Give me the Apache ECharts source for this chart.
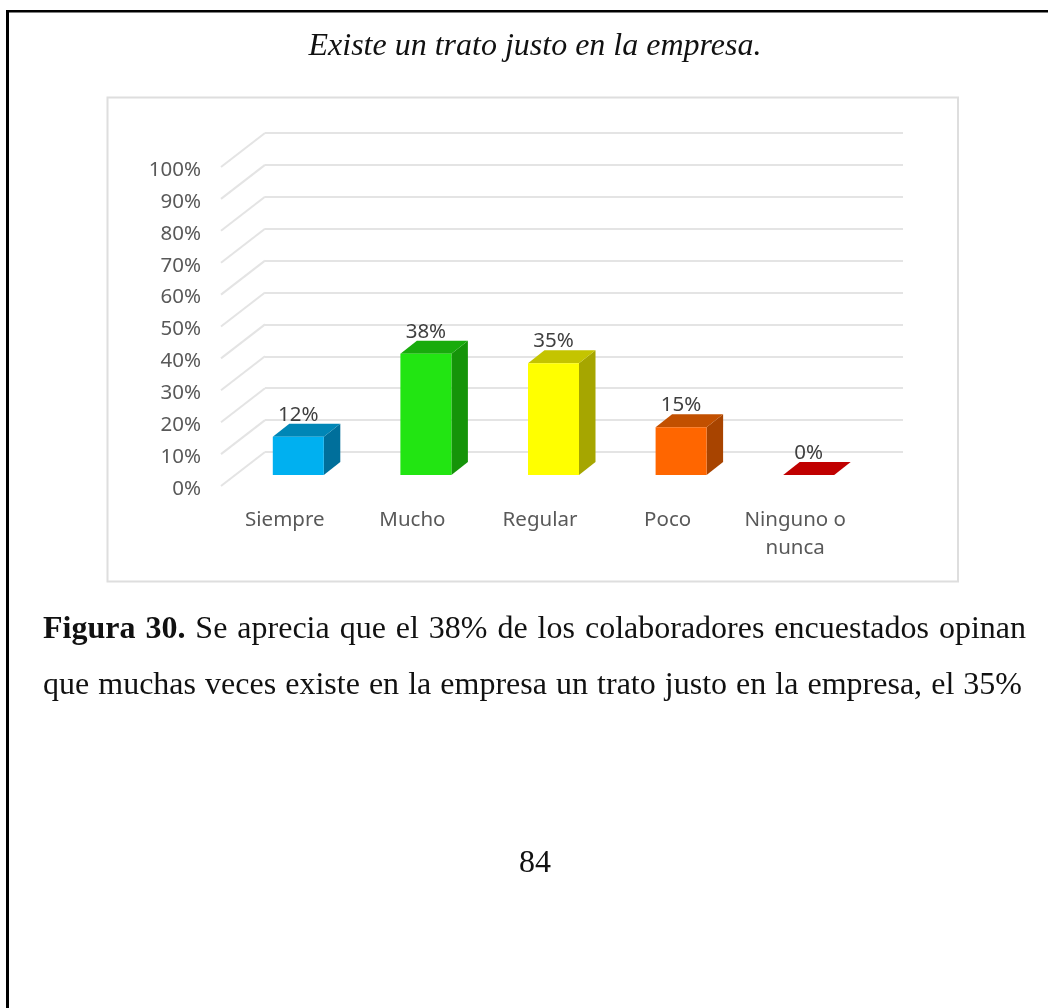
<!DOCTYPE html>
<html>
<head>
<meta charset="utf-8">
<title>Figura 30</title>
<script src="https://cdn.jsdelivr.net/npm/echarts@6/dist/echarts.min.js"></script>
<style>
  html, body { margin: 0; padding: 0; background: #fff; overflow: hidden; }
  #chart { position: absolute; left: 0; top: 0; width: 1048px; height: 1008px; }
  .line {
    position: absolute; left: 43px; height: 40px; line-height: 40px;
    font-family: "Liberation Serif", serif; font-size: 32px; color: #111;
    text-align: justify; text-align-last: justify;
  }
</style>
</head>
<body>
<div id="chart"></div>
<div class="line" style="top:607px;width:983px"><b>Figura 30.</b> Se aprecia que el 38% de los colaboradores encuestados opinan</div>
<div class="line" style="top:663px;width:979px">que muchas veces existe en la empresa un trato justo en la empresa, el 35%</div>
<script>
const categories = ['Siempre', 'Mucho', 'Regular', 'Poco', 'Ninguno o\nnunca'];
const percents = [12, 38, 35, 15, 0];
const tickValues = [0, 10, 20, 30, 40, 50, 60, 70, 80, 90, 100];

// front, top, side
const barColors = [
  ['#00b0f0', '#0086b6', '#006f9b'],
  ['#22e512', '#18ab0c', '#159409'],
  ['#ffff00', '#c4c400', '#a6a600'],
  ['#ff6600', '#c25000', '#a84400'],
  ['#c00000', '#c00000', '#c00000']
];

const labelFont = '20.5px "Noto Sans", sans-serif';

const chart = echarts.init(document.getElementById('chart'));

// floor diagonal running from the front plane to the back wall
function renderDiagonal(params, api) {
  const p = api.coord([0, api.value(0)]);
  const x = p[0] - api.size([1, 0])[0] / 2;
  return {
    type: 'line',
    shape: { x1: x, y1: p[1], x2: x + 44, y2: p[1] - 34 },
    style: { stroke: '#e4e4e4', lineWidth: 2 }
  };
}

// the "3d" bar: front face + top + side, sits a bit behind the front plane
function renderBar(params, api) {
  const i = api.value(0);
  const top = api.coord([i, api.value(1)]);
  const base = api.coord([i, 0]);
  const cx = top[0] + 13.5;
  const l = cx - 25.5, r = cx + 25.5;
  const t = top[1] - 11, b = base[1] - 11;
  const dx = 16.5, dy = 13;
  const c = barColors[i];
  return {
    type: 'group',
    children: [
      { type: 'polygon', shape: { points: [[r, t], [r + dx, t - dy], [r + dx, b - dy], [r, b]] }, style: { fill: c[2] } },
      { type: 'polygon', shape: { points: [[l, t], [l + dx, t - dy], [r + dx, t - dy], [r, t]] }, style: { fill: c[1] } },
      { type: 'rect', shape: { x: l, y: t, width: r - l, height: b - t }, style: { fill: c[0] } },
      {
        type: 'text',
        style: {
          text: api.value(1) + '%', x: cx, y: t - 22, align: 'center', verticalAlign: 'middle',
          font: labelFont, fill: '#404040'
        }
      }
    ]
  };
}

chart.setOption({
  animation: false,
  backgroundColor: '#fff',
  title: {
    text: 'Existe un trato justo en la empresa.',
    left: 530, top: 26, textAlign: 'center',
    textStyle: { fontFamily: 'Liberation Serif', fontStyle: 'italic', fontWeight: 'normal', fontSize: 32, color: '#111' }
  },
  graphic: [
    { type: 'rect', z: -1, shape: { x: 6, y: 10, width: 3, height: 998 }, style: { fill: '#000' } },
    { type: 'rect', z: -1, shape: { x: 6, y: 10, width: 1042, height: 2.5 }, style: { fill: '#000' } },
    { type: 'rect', z: -1, shape: { x: 107.5, y: 97.5, width: 850.5, height: 484 }, style: { fill: '#fff', stroke: '#dedede', lineWidth: 2 } },
    {
      type: 'text', x: 519, y: 848,
      style: { text: '84', font: '32px "Liberation Serif", serif', fill: '#111' }
    }
  ],
  grid: [
    { left: 265, top: 133, width: 638, height: 319 },
    { left: 221, top: 167, width: 638, height: 319 }
  ],
  xAxis: [
    { type: 'category', gridIndex: 0, data: categories, show: false },
    {
      type: 'category', gridIndex: 1, data: categories,
      axisLine: { show: false }, axisTick: { show: false },
      axisLabel: { interval: 0, margin: 20, color: '#595959', lineHeight: 28, fontFamily: 'Noto Sans', fontSize: 20.5 }
    }
  ],
  yAxis: [
    {
      type: 'value', gridIndex: 0, min: 0, max: 100, interval: 10,
      axisLabel: { show: false }, axisLine: { show: false }, axisTick: { show: false },
      splitLine: { lineStyle: { color: '#e4e4e4', width: 2 } }
    },
    {
      type: 'value', gridIndex: 1, min: 0, max: 100, interval: 10,
      axisLine: { show: false }, axisTick: { show: false }, splitLine: { show: false },
      axisLabel: { margin: 20, formatter: '{value}%', color: '#595959', fontFamily: 'Noto Sans', fontSize: 20.5, verticalAlign: 'top', lineHeight: 6 }
    }
  ],
  series: [
    {
      type: 'custom', name: 'diagonales', xAxisIndex: 1, yAxisIndex: 1, silent: true, clip: false,
      data: tickValues, renderItem: renderDiagonal,
      encode: { y: 0 }
    },
    {
      type: 'custom', name: 'porcentaje', xAxisIndex: 1, yAxisIndex: 1, silent: true, clip: false, z: 5,
      data: percents.map((v, i) => [i, v]), renderItem: renderBar,
      encode: { x: 0, y: 1 }
    }
  ]
});
</script>
</body>
</html>
